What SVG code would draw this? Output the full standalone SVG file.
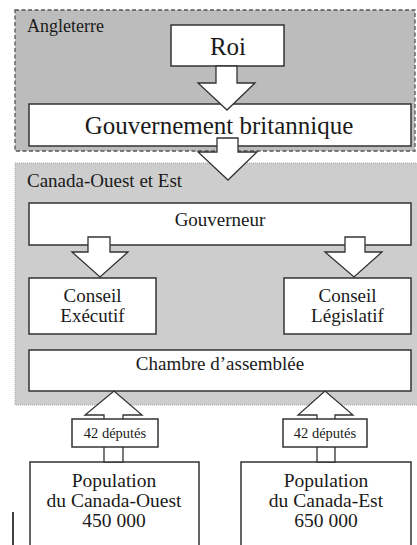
<svg xmlns="http://www.w3.org/2000/svg" width="417" height="545" viewBox="0 0 417 545">
<style>
text{font-family:"Liberation Serif","Times New Roman",serif;fill:#1a1a1a;text-anchor:middle}
.box{fill:#fff;stroke:#333;stroke-width:1.5}
.arrow{fill:#fff;stroke:#333;stroke-width:1.3;stroke-linejoin:miter}
.lbl{text-anchor:start}
</style>
<rect width="417" height="545" fill="#fff"/>
<g id="angleterre">
<rect x="15" y="10" width="400" height="141" fill="#bcbcbc" stroke="#555" stroke-width="1.3" stroke-dasharray="4,2.5"/>
<text class="lbl" x="27" y="32" font-size="18">Angleterre</text>
</g>
<g id="canada">
<rect x="15" y="163" width="405" height="242" fill="#cdcdcd" stroke="#aaa" stroke-width="1" stroke-dasharray="1,1"/>
<text class="lbl" x="27" y="187" font-size="19">Canada-Ouest et Est</text>
</g>
<g id="roi">
<rect class="box" x="171" y="25" width="113" height="41"/>
<text x="228" y="55" font-size="25">Roi</text>
</g>
<g id="gouvernement">
<rect class="box" x="29" y="104" width="382" height="42"/>
<text x="219" y="134" font-size="25">Gouvernement britannique</text>
</g>
<g id="gouverneur">
<rect class="box" x="29" y="203" width="382" height="42"/>
<text x="220" y="226" font-size="19">Gouverneur</text>
</g>
<g id="conseil-executif">
<rect class="box" x="29" y="278" width="127" height="56"/>
<text x="92.5" y="302" font-size="19">Conseil</text>
<text x="92.5" y="322" font-size="19">Exécutif</text>
</g>
<g id="conseil-legislatif">
<rect class="box" x="284" y="278" width="127" height="56"/>
<text x="347.5" y="302" font-size="19">Conseil</text>
<text x="347.5" y="322" font-size="19">Législatif</text>
</g>
<g id="chambre">
<rect class="box" x="29" y="350" width="382" height="41"/>
<text x="220" y="370" font-size="19">Chambre d’assemblée</text>
</g>
<g id="population-ouest">
<rect class="box" x="30" y="462" width="169" height="90"/>
<text x="114" y="487" font-size="19.5">Population</text>
<text x="114" y="507" font-size="19.5">du Canada-Ouest</text>
<text x="114" y="527" font-size="19.5">450 000</text>
</g>
<g id="population-est">
<rect class="box" x="241" y="462" width="170" height="90"/>
<text x="326" y="487" font-size="19.5">Population</text>
<text x="326" y="507" font-size="19.5">du Canada-Est</text>
<text x="326" y="527" font-size="19.5">650 000</text>
</g>
<g id="connectors">
<path class="arrow" d="M216,66 L237,66 L237,83 L255,83 L227,110 L198,83 L216,83 Z"/>
<path class="arrow" d="M217,138 L238,138 L238,152 L257,152 L228,180 L198,152 L217,152 Z"/>
<path class="arrow" d="M88,237 L110,237 L110,252 L128,252 L100,277 L72,252 L88,252 Z"/>
<path class="arrow" d="M345,237 L365,237 L365,252 L382,252 L354,277 L325,252 L345,252 Z"/>
<path class="arrow" d="M104,462 L123,462 L123,415 L142,415 L114,391 L85,415 L104,415 Z"/>
<path class="arrow" d="M317,462 L335,462 L335,415 L353,415 L325,391 L298,415 L317,415 Z"/>
</g>
<g id="label-ouest">
<rect class="box" x="72" y="419" width="86" height="28"/>
<text x="115" y="438" font-size="14.5">42 députés</text>
</g>
<g id="label-est">
<rect class="box" x="283" y="419" width="84" height="28"/>
<text x="325" y="438" font-size="14.5">42 députés</text>
</g>
<line x1="13" y1="512" x2="13" y2="545" stroke="#000" stroke-width="1.5"/>
</svg>
